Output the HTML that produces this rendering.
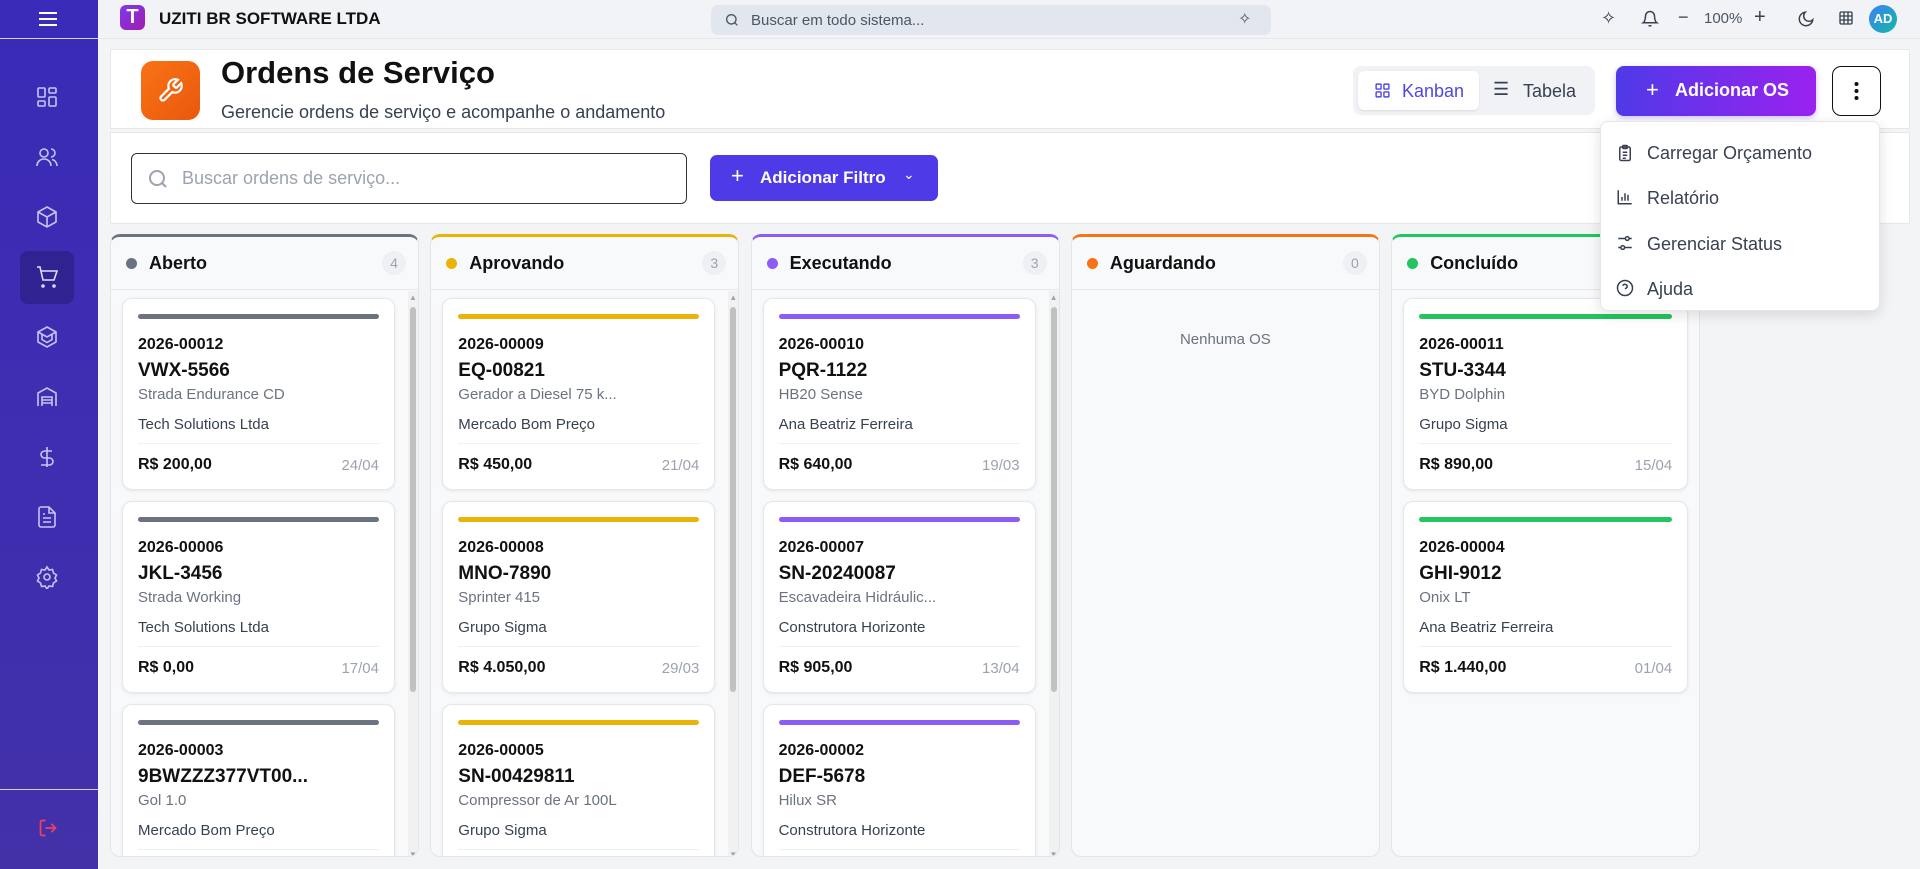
<!DOCTYPE html>
<html><head><meta charset="utf-8"><style>
*{box-sizing:border-box;margin:0;padding:0}
body{width:1920px;height:869px;overflow:hidden;background:#f3f4f6;font-family:"Liberation Sans",sans-serif;color:#111827;position:relative}
.abs{position:absolute}
.sb{left:0;top:0;width:98px;height:869px;background:linear-gradient(180deg,#3a2bb8,#3f2fae 70%,#4331a8)}
.sico{position:absolute;left:35px;width:24px;height:24px}
.top{left:98px;top:0;width:1822px;height:39px;background:#f1f3f6;border-bottom:1px solid #e5e7eb}
.card{position:absolute;background:#fff;border:1px solid #e5e7eb;border-radius:10px;box-shadow:0 1px 3px rgba(0,0,0,.08);overflow:hidden}
.col{position:absolute;top:234px;height:623px;background:#f8f9fb;border:1px solid #e2e5ea;border-radius:10px;overflow:hidden}
.ch{position:absolute;left:0;right:0;top:0;height:53px;border-bottom:1px solid #e5e7eb;background:#f8f9fb}
.t{position:absolute;white-space:nowrap}
</style></head><body>
<div class="abs sb">
 <div class="abs" style="left:0;top:38px;width:98px;height:1px;background:#cfd0f0"></div>
 <svg class="abs" style="left:38px;top:10px" width="20" height="18"><path d="M1 3h18M1 9h18M1 15h18" stroke="#fff" stroke-width="2"/></svg>
 <div class="abs" style="left:20px;top:251px;width:54px;height:53px;background:#2e2390;border-radius:8px"></div>
 <svg class="sico" style="top:85px" viewBox="0 0 24 24" fill="none" stroke="#c7c5f0" stroke-width="1.6"><rect x="3" y="3" width="7" height="9" rx="1"/><rect x="14" y="3" width="7" height="5" rx="1"/><rect x="14" y="12" width="7" height="9" rx="1"/><rect x="3" y="16" width="7" height="5" rx="1"/></svg>
 <svg class="sico" style="top:145px" viewBox="0 0 24 24" fill="none" stroke="#c7c5f0" stroke-width="1.6"><circle cx="9" cy="8" r="4"/><path d="M2 21c0-4 3-7 7-7s7 3 7 7M16 4a4 4 0 010 8M22 21c0-3-2-6-5-6.5"/></svg>
 <svg class="sico" style="top:205px" viewBox="0 0 24 24" fill="none" stroke="#c7c5f0" stroke-width="1.6"><path d="M12 2l9 5v10l-9 5-9-5V7z M3 7l9 5 9-5M12 12v10"/></svg>
 <svg class="sico" style="top:265px" viewBox="0 0 24 24" fill="none" stroke="#e0dff8" stroke-width="1.6"><circle cx="8" cy="21" r="1"/><circle cx="19" cy="21" r="1"/><path d="M2 2h3l3 13h11l3-9H6"/></svg>
 <svg class="sico" style="top:325px" viewBox="0 0 24 24" fill="none" stroke="#c7c5f0" stroke-width="1.6"><path d="M12 2l9 5v10l-9 5-9-5V7z M3 7l9 5 9-5M7 9.5v5l5 3 5-3v-5"/></svg>
 <svg class="sico" style="top:385px" viewBox="0 0 24 24" fill="none" stroke="#c7c5f0" stroke-width="1.6"><path d="M3 21V8l9-5 9 5v13M7 21v-9h10v9M7 15h10M7 18h10"/></svg>
 <svg class="sico" style="top:445px" viewBox="0 0 24 24" fill="none" stroke="#c7c5f0" stroke-width="1.6"><path d="M12 2v20M17 6H9.5a3.5 3.5 0 000 7h5a3.5 3.5 0 010 7H6"/></svg>
 <svg class="sico" style="top:505px" viewBox="0 0 24 24" fill="none" stroke="#c7c5f0" stroke-width="1.6"><path d="M14 2H6a2 2 0 00-2 2v16a2 2 0 002 2h12a2 2 0 002-2V8z M14 2v6h6M8 13h8M8 17h8M8 9h2"/></svg>
 <svg class="sico" style="top:565px" viewBox="0 0 24 24" fill="none" stroke="#c7c5f0" stroke-width="1.6"><circle cx="12" cy="12" r="3"/><path d="M12 2l2 3 3.5-.5 1 3.5 3 2-1.5 3 1.5 3-3 2-1 3.5-3.5-.5-2 3-2-3-3.5.5-1-3.5-3-2 1.5-3L2.5 10l3-2 1-3.5L10 5z"/></svg>
 <div class="abs" style="left:0;top:789px;width:98px;height:1px;background:#cfd0f0"></div>
 <svg class="sico" style="top:818px;left:38px;width:20px;height:20px" viewBox="0 0 24 24" fill="none" stroke="#f43f5e" stroke-width="2"><path d="M9 21H5a2 2 0 01-2-2V5a2 2 0 012-2h4M16 17l5-5-5-5M21 12H9"/></svg>
</div>

<div class="abs top">
 <div class="abs" style="left:22px;top:5px;width:25px;height:25px;border-radius:6px;background:linear-gradient(135deg,#7c3aed,#a21caf);color:#fff;font-weight:bold;font-size:20px;text-align:center;line-height:25px">T</div>
 <div class="t" style="left:61px;top:9px;font-size:17px;font-weight:bold;color:#111">UZITI BR SOFTWARE LTDA</div>
 <div class="abs" style="left:613px;top:5px;width:560px;height:30px;background:#e2e6ee;border-radius:7px">
  <svg class="abs" style="left:13px;top:7px" width="16" height="16" viewBox="0 0 24 24" fill="none" stroke="#4b5563" stroke-width="2"><circle cx="11" cy="11" r="7"/><path d="M20 20l-4-4"/></svg>
  <div class="t" style="left:40px;top:7px;font-size:15px;color:#4b5563">Buscar em todo sistema...</div>
  <div class="t" style="left:527px;top:4px;font-size:16px;color:#4b5563">✧</div>
 </div>
 <div class="t" style="left:1503px;top:8px;font-size:18px;color:#374151">✧</div>
 <svg class="abs" style="left:1543px;top:10px" width="18" height="18" viewBox="0 0 24 24" fill="none" stroke="#374151" stroke-width="2"><path d="M6 8a6 6 0 0112 0c0 7 3 9 3 9H3s3-2 3-9M10 21h4"/></svg>
 <div class="t" style="left:1580px;top:7px;font-size:18px;color:#374151">−</div>
 <div class="t" style="left:1606px;top:10px;font-size:15px;color:#4b5563">100%</div>
 <div class="t" style="left:1656px;top:6px;font-size:20px;color:#374151">+</div>
 <svg class="abs" style="left:1699px;top:10px" width="18" height="18" viewBox="0 0 24 24" fill="none" stroke="#374151" stroke-width="2"><path d="M21 13A9 9 0 1111 3a7 7 0 0010 10z"/></svg>
 <svg class="abs" style="left:1740px;top:10px" width="16" height="16" viewBox="0 0 24 24" fill="none" stroke="#374151" stroke-width="2"><rect x="3" y="3" width="18" height="18" rx="2"/><path d="M3 9h18M3 15h18M9 3v18M15 3v18"/></svg>
 <div class="abs" style="left:1771px;top:5px;width:28px;height:28px;border-radius:50%;background:linear-gradient(135deg,#3b82f6,#14b8a6);color:#fff;font-size:13px;font-weight:bold;text-align:center;line-height:28px">AD</div>
</div>

<div class="card" style="left:110px;top:49px;width:1800px;height:80px;border-radius:2px 2px 0 0;box-shadow:none">
 <div class="abs" style="left:30px;top:11px;width:59px;height:59px;border-radius:12px;background:linear-gradient(135deg,#f97316,#ea580c)">
  <svg class="abs" style="left:16px;top:16px" width="27" height="27" viewBox="0 0 24 24" fill="none" stroke="#fff" stroke-width="2"><path d="M14.7 6.3a1 1 0 000 1.4l1.6 1.6a1 1 0 001.4 0l3.8-3.8a6 6 0 01-7.9 7.9l-6.9 6.9a2.1 2.1 0 01-3-3l6.9-6.9a6 6 0 017.9-7.9z"/></svg>
 </div>
 <div class="t" style="left:110px;top:5px;font-size:31px;font-weight:bold;color:#111">Ordens de Serviço</div>
 <div class="t" style="left:110px;top:52px;font-size:18px;color:#374151">Gerencie ordens de serviço e acompanhe o andamento</div>
 <div class="abs" style="left:1242px;top:16px;width:242px;height:49px;background:#f1f2f5;border-radius:8px">
  <div class="abs" style="left:5px;top:5px;width:121px;height:39px;background:#fff;border-radius:6px;box-shadow:0 1px 2px rgba(0,0,0,.1)">
   <svg class="abs" style="left:16px;top:11px" width="17" height="17" viewBox="0 0 24 24" fill="none" stroke="#4f46e5" stroke-width="2"><rect x="3" y="3" width="7" height="7" rx="1"/><rect x="14" y="3" width="7" height="7" rx="1"/><rect x="3" y="14" width="7" height="7" rx="1"/><rect x="14" y="14" width="7" height="7" rx="1"/></svg>
   <div class="t" style="left:44px;top:10px;font-size:18px;color:#4f46e5">Kanban</div>
  </div>
  <div class="abs" style="left:130px;top:5px;width:108px;height:39px">
   <div class="t" style="left:10px;top:8px;font-size:18px;color:#374151">☰</div>
   <div class="t" style="left:40px;top:10px;font-size:18px;color:#374151">Tabela</div>
  </div>
 </div>
 <div class="abs" style="left:1505px;top:16px;width:200px;height:50px;border-radius:8px;background:linear-gradient(90deg,#4f3ae8,#9a22ee);box-shadow:0 2px 6px rgba(90,50,230,.3)">
  <div class="t" style="left:30px;top:11px;font-size:22px;color:#fff">+</div>
  <div class="t" style="left:59px;top:14px;font-size:18px;font-weight:bold;color:#fff">Adicionar OS</div>
 </div>
 <div class="abs" style="left:1721px;top:16px;width:49px;height:50px;border:1.5px solid #111;border-radius:9px">
  <svg class="abs" style="left:21px;top:14px" width="5" height="20"><circle cx="2.5" cy="3" r="2" fill="#111"/><circle cx="2.5" cy="10" r="2" fill="#111"/><circle cx="2.5" cy="17" r="2" fill="#111"/></svg>
 </div>
</div>

<div class="card" style="left:110px;top:132px;width:1800px;height:92px;border-radius:0 0 2px 2px;box-shadow:none">
 <div class="abs" style="left:20px;top:20px;width:556px;height:51px;border:1.5px solid #333;border-radius:6px">
  <svg class="abs" style="left:14px;top:13px" width="24" height="24" viewBox="0 0 24 24" fill="none" stroke="#9ca3af" stroke-width="2"><circle cx="11" cy="11" r="7"/><path d="M20 20l-4-4"/></svg>
  <div class="t" style="left:50px;top:14px;font-size:18px;color:#9ca3af">Buscar ordens de serviço...</div>
 </div>
 <div class="abs" style="left:599px;top:22px;width:228px;height:46px;border-radius:7px;background:#4f3ae8">
  <div class="t" style="left:21px;top:8px;font-size:22px;color:#fff">+</div>
  <div class="t" style="left:50px;top:13px;font-size:17px;font-weight:bold;color:#fff">Adicionar Filtro</div>
  <div class="t" style="left:193px;top:11px;font-size:14px;color:#fff">⌄</div>
 </div>
</div>

<div id="board"></div>

<div class="card" style="left:1600px;top:121px;width:280px;height:190px;border-radius:8px;box-shadow:0 4px 14px rgba(0,0,0,.12);z-index:5">
 <div class="abs" style="left:0;top:10px;width:280px;height:42px">
  <svg class="abs" style="left:15px;top:11px" width="18" height="20" viewBox="0 0 24 24" fill="none" stroke="#374151" stroke-width="2"><rect x="5" y="4" width="14" height="18" rx="2"/><rect x="9" y="2" width="6" height="4" rx="1"/><path d="M9 11h6M9 15h6M9 19h4"/></svg>
  <div class="t" style="left:46px;top:11px;font-size:18px;color:#374151">Carregar Orçamento</div>
 </div>
 <div class="abs" style="left:0;top:55px;width:280px;height:42px">
  <svg class="abs" style="left:15px;top:11px" width="18" height="18" viewBox="0 0 24 24" fill="none" stroke="#374151" stroke-width="2"><path d="M3 3v18h18M8 17v-5M12 17V7M16 17v-8"/></svg>
  <div class="t" style="left:46px;top:11px;font-size:18px;color:#374151">Relatório</div>
 </div>
 <div class="abs" style="left:0;top:101px;width:280px;height:42px">
  <svg class="abs" style="left:15px;top:11px" width="18" height="18" viewBox="0 0 24 24" fill="none" stroke="#374151" stroke-width="2"><path d="M3 6h9M18 6h3M3 18h3M12 18h9"/><circle cx="15" cy="6" r="2.5"/><circle cx="9" cy="18" r="2.5"/></svg>
  <div class="t" style="left:46px;top:11px;font-size:18px;color:#374151">Gerenciar Status</div>
 </div>
 <div class="abs" style="left:0;top:146px;width:280px;height:42px">
  <svg class="abs" style="left:15px;top:11px" width="18" height="18" viewBox="0 0 24 24" fill="none" stroke="#374151" stroke-width="2"><circle cx="12" cy="12" r="10"/><path d="M9.1 9a3 3 0 015.8 1c0 2-3 3-3 3M12 17h.01"/></svg>
  <div class="t" style="left:46px;top:11px;font-size:18px;color:#374151">Ajuda</div>
 </div>
</div>

<script>
const columnNames=["Aberto","Aprovando","Executando","Aguardando","Concluído"];
const columnColors=["#6b7280","#eab308","#8b5cf6","#f97316","#22c55e"];
const columnCounts=[4,3,3,0,2];
const orders=[
 [["2026-00012","VWX-5566","Strada Endurance CD","Tech Solutions Ltda","R$ 200,00","24/04"],["2026-00006","JKL-3456","Strada Working","Tech Solutions Ltda","R$ 0,00","17/04"],["2026-00003","9BWZZZ377VT00...","Gol 1.0","Mercado Bom Preço","",""]],
 [["2026-00009","EQ-00821","Gerador a Diesel 75 k...","Mercado Bom Preço","R$ 450,00","21/04"],["2026-00008","MNO-7890","Sprinter 415","Grupo Sigma","R$ 4.050,00","29/03"],["2026-00005","SN-00429811","Compressor de Ar 100L","Grupo Sigma","",""]],
 [["2026-00010","PQR-1122","HB20 Sense","Ana Beatriz Ferreira","R$ 640,00","19/03"],["2026-00007","SN-20240087","Escavadeira Hidráulic...","Construtora Horizonte","R$ 905,00","13/04"],["2026-00002","DEF-5678","Hilux SR","Construtora Horizonte","",""]],
 [],
 [["2026-00011","STU-3344","BYD Dolphin","Grupo Sigma","R$ 890,00","15/04"],["2026-00004","GHI-9012","Onix LT","Ana Beatriz Ferreira","R$ 1.440,00","01/04"]]
];
const board=document.getElementById('board');
function txt(parent,s,css){const d=document.createElement('div');d.className='t';d.style.cssText=css;d.textContent=s;parent.appendChild(d);return d;}
columnNames.forEach((name,i)=>{
 const col=document.createElement('div');
 
 
 col.className='col';
 col.style.left=(110+i*320.3)+'px';col.style.width='309px';
 col.style.borderTop='3px solid '+columnColors[i];
 board.appendChild(col);
 const h=document.createElement('div');h.className='ch';
 
 
 col.appendChild(h);
 const dot=document.createElement('div');dot.className='abs';
 
 
 dot.style.cssText='left:15px;top:21px;width:11px;height:11px;border-radius:50%;background:'+columnColors[i];
 h.appendChild(dot);
 const title=txt(h,name,'left:38px;top:16px;font-size:18px;font-weight:bold;color:#111');
 
 
 const cnt=txt(h,String(columnCounts[i]),'right:12px;top:14px;width:24px;height:24px;border-radius:12px;background:#eef0f3;text-align:center;line-height:24px;font-size:14px;color:#9ca3af');
 
 
 const list=orders[i];
 const scroll=list.length>2;
 if(list.length===0){
  const e=txt(col,'Nenhuma OS','left:0;right:0;top:94px;text-align:center;font-size:15px;color:#6b7280');
  
  
 }
 if(scroll){
  const sb=document.createElement('div');sb.className='abs';
  
  
  sb.style.cssText='left:297px;top:54px;width:10px;height:570px;background:#f1f1f1';
  sb.innerHTML='<div style="position:absolute;left:2px;top:16px;width:6px;height:385px;background:#c1c1c1;border-radius:3px"></div><div style="position:absolute;left:1px;top:2px;font-size:8px;color:#a3a3a3">▲</div><div style="position:absolute;left:1px;bottom:2px;font-size:8px;color:#a3a3a3">▼</div>';
  col.appendChild(sb);
 }
 list.forEach((o,j)=>{
  const c=document.createElement('div');c.className='card';
  
  
  c.style.cssText='left:11px;top:'+(61+j*203)+'px;width:'+(scroll?273:285)+'px;height:192px;border-radius:10px';
  col.appendChild(c);
  const bar=document.createElement('div');bar.className='abs';
  
  
  bar.style.cssText='left:15px;right:15px;top:15px;height:5px;border-radius:3px;background:'+columnColors[i];
  c.appendChild(bar);
  const a=txt(c,o[0],'left:15px;top:37px;font-size:16px;font-weight:bold;color:#111');
  
  
  const b=txt(c,o[1],'left:15px;top:61px;font-size:19px;font-weight:bold;color:#111');
  
  
  const m=txt(c,o[2],'left:15px;top:87px;font-size:15px;color:#6b7280');
  
  
  const cl=txt(c,o[3],'left:15px;top:117px;font-size:15px;color:#374151');
  
  
  const sep=document.createElement('div');sep.className='abs';
  
  
  sep.style.cssText='left:15px;right:15px;top:144px;height:1px;background:#eef0f2';
  c.appendChild(sep);
  const p=txt(c,o[4],'left:15px;top:157px;font-size:16px;font-weight:bold;color:#111');
  
  
  const d=txt(c,o[5],'right:15px;top:158px;font-size:15px;color:#9ca3af');
  
  
 });
});
</script>
</body></html>
